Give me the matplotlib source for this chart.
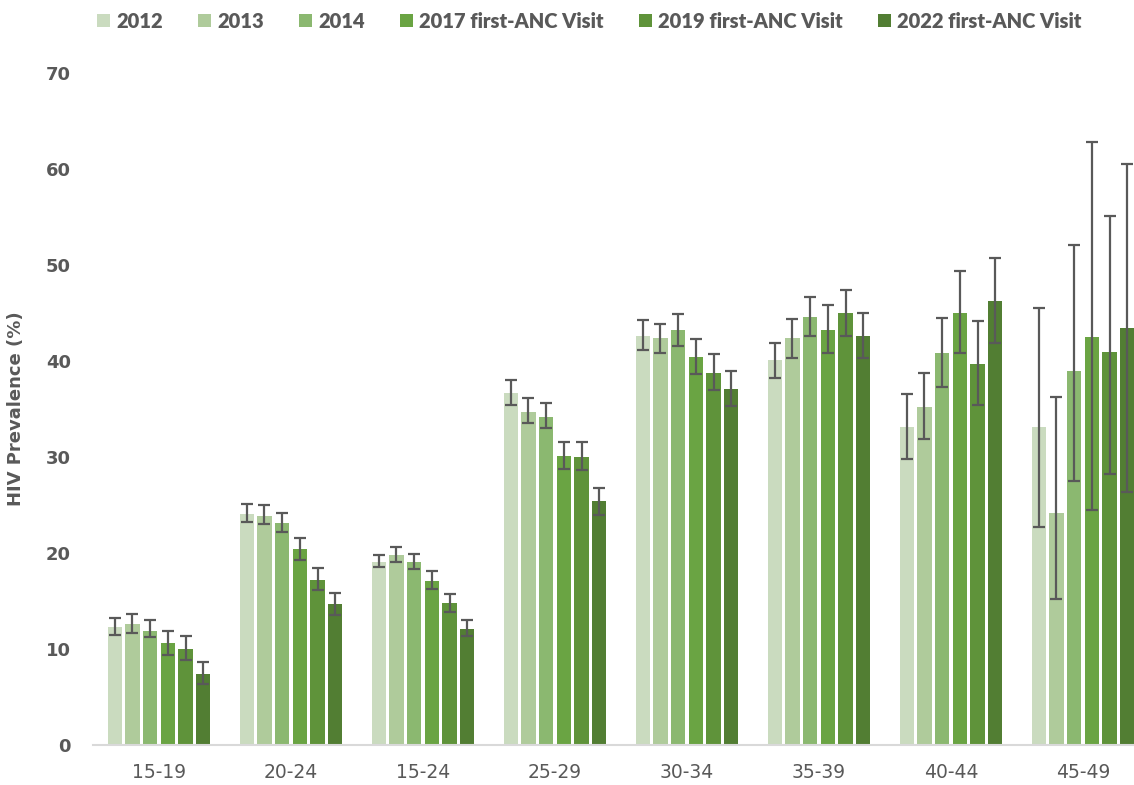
import numpy as np
import matplotlib
matplotlib.use("Agg")
import matplotlib.pyplot as plt

groups = ["15-19", "20-24", "15-24", "25-29", "30-34", "35-39", "40-44", "45-49"]
series = ["2012", "2013", "2014", "2017 first-ANC Visit", "2019 first-ANC Visit", "2022 first-ANC Visit"]
colors = ["#CADBBF", "#AFCB9B", "#8BB870", "#6AA443", "#5F933A", "#527E33"]

# prevalence per series (rows) and age group (cols)
values = [
    [12.3, 24.1, 19.1, 36.7, 42.6, 40.1, 33.1, 33.1],
    [12.6, 23.9, 19.8, 34.7, 42.4, 42.4, 35.2, 24.2],
    [11.9, 23.1, 19.1, 34.2, 43.2, 44.6, 40.8, 39.0],
    [10.6, 20.4, 17.1, 30.1, 40.4, 43.2, 45.0, 42.5],
    [10.0, 17.2, 14.8, 30.0, 38.7, 45.0, 39.7, 40.9],
    [7.4, 14.7, 12.1, 25.4, 37.1, 42.6, 46.3, 43.4],
]
lower = [
    [11.5, 23.2, 18.5, 35.4, 41.1, 38.2, 29.8, 22.7],
    [11.7, 23.0, 19.1, 33.5, 40.8, 40.3, 31.9, 15.2],
    [11.2, 22.2, 18.3, 33.0, 41.6, 42.6, 37.3, 27.5],
    [9.4, 19.3, 16.2, 28.7, 38.6, 40.8, 40.8, 24.5],
    [8.9, 16.1, 13.9, 28.6, 37.0, 42.6, 35.4, 28.2],
    [6.4, 13.5, 11.3, 24.0, 35.3, 40.3, 41.9, 26.4],
]
upper = [
    [13.2, 25.1, 19.8, 38.0, 44.3, 41.9, 36.6, 45.5],
    [13.6, 25.0, 20.6, 36.1, 43.9, 44.4, 38.7, 36.3],
    [13.0, 24.2, 19.9, 35.6, 44.9, 46.7, 44.5, 52.1],
    [11.9, 21.6, 18.1, 31.6, 42.3, 45.8, 49.4, 62.8],
    [11.3, 18.4, 15.7, 31.6, 40.7, 47.4, 44.2, 55.1],
    [8.6, 15.8, 13.0, 26.8, 39.0, 45.0, 50.7, 60.5],
]

fig = plt.figure(figsize=(11.34, 7.85), dpi=100)
# right edge runs past the figure, the last bar is cut like in the source
ax = fig.add_axes([93 / 1134, 0.051, 1056 / 1134, 0.856])

x = np.arange(len(groups))
pitch = 0.134
width = 0.107
for i, name in enumerate(series):
    v = np.array(values[i])
    lo = v - np.array(lower[i])
    hi = np.array(upper[i]) - v
    pos = x + (i - 2.5) * pitch
    ax.bar(pos, v, width, color=colors[i], label=name, zorder=2)
    ax.errorbar(pos, v, yerr=[lo, hi], fmt="none", ecolor="#595959",
                elinewidth=1.6, capsize=4.5, capthick=1.6, zorder=3)

ax.set_xlim(-0.5, len(groups) - 0.5)
ax.set_ylim(0, 70)
ax.set_yticks(range(0, 71, 10))
ax.set_xticks(x)
ax.set_xticklabels(groups, fontsize=13.5, color="#595959")
for lab in ax.get_yticklabels():
    lab.set_fontweight("bold")
    lab.set_fontsize(13)
    lab.set_color("#595959")
ax.tick_params(length=0)
ax.tick_params(axis="x", pad=13)
ax.tick_params(axis="y", pad=16)
for s in ["top", "right", "left"]:
    ax.spines[s].set_visible(False)
ax.spines["bottom"].set_color("#D9D9D9")
ax.spines["bottom"].set_linewidth(1.5)

ax.set_ylabel("HIV Prevalence (%)", fontsize=13, fontweight="bold", color="#595959")
ax.yaxis.set_label_coords(-0.064, 0.5)

leg = fig.legend(*ax.get_legend_handles_labels(), ncol=6, loc="center",
                 bbox_to_anchor=(589 / 1134, 1 - 21 / 785), frameon=False,
                 prop={"family": ["Lato", "DejaVu Sans"], "weight": "heavy", "size": 14.5},
                 handlelength=0.65, handleheight=0.65, handletextpad=0.3, columnspacing=1.75)
for t in leg.get_texts():
    t.set_color("#595959")

fig.savefig("out.png", dpi=100)
